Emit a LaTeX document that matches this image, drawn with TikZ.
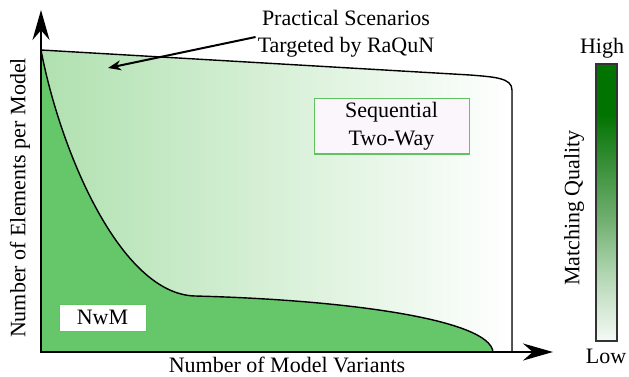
\documentclass[tikz,border=0pt]{standalone}
\usepackage{fontspec}
\setmainfont{Liberation Serif}
\usetikzlibrary{arrows.meta}
\definecolor{lightg}{RGB}{176,225,176}
\definecolor{darkfill}{RGB}{102,199,106}
\definecolor{boxedge}{RGB}{95,195,95}
\definecolor{boxfill}{RGB}{250,246,252}
\definecolor{cbtop}{RGB}{0,115,0}
\definecolor{cbW}{RGB}{245,250,245}
\definecolor{cbC}{RGB}{178,214,178}
\definecolor{cbD}{RGB}{112,175,112}
\definecolor{cbE}{RGB}{50,140,50}
\pgfdeclareverticalshading{cbshade}{100bp}{color(0bp)=(cbW); color(25bp)=(cbW); color(37bp)=(cbC); color(47bp)=(cbD); color(58bp)=(cbE); color(66bp)=(cbtop); color(100bp)=(cbtop)}
\begin{document}
\begin{tikzpicture}[x=1pt,y=-1pt,
  lbl/.style={font=\fontsize{22}{27}\selectfont, inner sep=0pt, align=center},
  boxstyle/.style={font=\fontsize{22}{28}\selectfont, draw=boxedge, line width=1pt, fill=boxfill, align=center, inner sep=0pt},
  axisline/.style={line width=2pt, -{Stealth[length=30pt,width=17pt]}},
  outline/.style={line width=1.4pt, black}]
\useasboundingbox (0,0) rectangle (629,377);
% light region
\fill[left color=lightg, right color=white]
  (41,352) -- (41,50) -- (470,75) .. controls (495,77) and (512,78) .. (512,90) -- (512,352) -- cycle;
\draw[outline] (41,50) -- (470,75) .. controls (495,77) and (512,78) .. (512,90) -- (512,352);
% dark region
\fill[darkfill] (41,50) .. controls (60,150) and (120,294) .. (195,296)
  .. controls (350,300) and (490,320) .. (493,352) -- (41,352) -- cycle;
\draw[outline] (41,50) .. controls (60,150) and (120,294) .. (195,296)
  .. controls (350,300) and (490,320) .. (493,352);
% axes
\coordinate (O) at (41,352);
\coordinate (ytip) at (41,10);
\coordinate (xtip) at (553,352);
\draw[axisline] ([yshift=-1pt]O) -- (ytip);
\draw[axisline] ([xshift=-1pt]O) -- (xtip);
% labels
\node[lbl] (xlab) at (287,364.5) {Number of Model Variants};
\node[lbl, rotate=90] (ylab) at (20,198) {Number of Elements per Model};
\node[lbl, inner sep=2pt] (practical) at (346,34) {Practical Scenarios\\Targeted by RaQuN};
\coordinate (ptip) at (108,68);
\draw[line width=2pt, -{Stealth[length=13pt,width=10pt]}] ([yshift=-3pt]practical.west) -- (ptip);
% boxes
\node[boxstyle, minimum width=155pt, minimum height=55pt] (seq) at (391.5,126.5) {Sequential\\Two-Way};
\node[boxstyle, fill=white, minimum width=87pt, minimum height=27pt] (nwm) at (102.5,317.5) {NwM};
% colour bar
\path[shading=cbshade, draw=black!80, line width=1.2pt] (596,64) rectangle (617,341);
\node[lbl] (high) at (602,48) {High};
\node[lbl] (low) at (606,356) {Low};
\node[lbl, rotate=90] (mq) at (574,208) {Matching Quality};
\end{tikzpicture}
\end{document}
